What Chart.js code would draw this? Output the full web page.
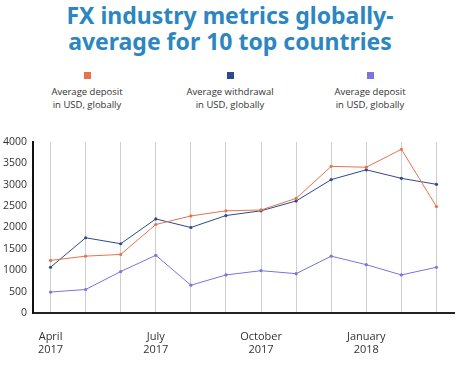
<html>
<head>
  <meta charset="utf-8"/>
  <title>FX industry metrics globally</title>
  <script src="https://cdn.jsdelivr.net/npm/chart.js"></script>
  <style>
    body {
      margin: 0;
      background: #fff;
      font-family: "Open Sans", sans-serif;
    }
    #wrap {
      position: relative;
      width: 460px;
      height: 367px;
      overflow: hidden;
    }
    h1 {
      position: absolute;
      top: 2px;
      left: 0;
      width: 460px;
      margin: 0;
      text-align: center;
      font-family: "Noto Sans", sans-serif;
      font-weight: bold;
      font-size: 23px;
      line-height: 26px;
      color: #2b86c2;
    }
    .legend-item {
      position: absolute;
      top: 72px;
      width: 120px;
      text-align: center;
      font-size: 9.5px;
      line-height: 12.5px;
      color: #333;
    }
    .legend-item span {
      display: block;
      width: 7px;
      height: 7px;
      margin: 0 auto 7px auto;
    }
    .chart-box {
      position: absolute;
      left: 0;
      top: 0;
      width: 460px;
      height: 367px;
    }
  </style>
</head>
<body>
  <div id="wrap">
    <h1>FX industry metrics globally-<br>average for 10 top countries</h1>
    <div id="legend"></div>
    <div class="chart-box">
      <canvas id="fxChart"></canvas>
    </div>
  </div>

  <script>
    const months = ['April 2017', 'May 2017', 'June 2017', 'July 2017', 'August 2017', 'September 2017',
                    'October 2017', 'November 2017', 'December 2017', 'January 2018', 'February 2018', 'March 2018'];
    const seriesNames = ['Average deposit in USD, globally', 'Average withdrawal in USD, globally', 'Average deposit in USD, globally'];
    const depositValues = [1230, 1330, 1370, 2070, 2270, 2390, 2410, 2680, 3430, 3410, 3830, 2490];
    const withdrawalValues = [1070, 1760, 1620, 2200, 2000, 2280, 2390, 2620, 3120, 3350, 3150, 3010];
    const deposit2Values = [490, 550, 970, 1350, 650, 890, 990, 920, 1330, 1130, 890, 1070];
    const yTicks = [0, 500, 1000, 1500, 2000, 2500, 3000, 3500, 4000];

    const colors = ['#e8734b', '#2c4a8c', '#7b73de'];
    const legendX = [27, 170, 310];

    const legend = document.getElementById('legend');
    seriesNames.forEach((name, i) => {
      const d = document.createElement('div');
      d.className = 'legend-item';
      d.style.left = legendX[i] + 'px';
      const parts = name.split(' in ');
      d.innerHTML = `<span style="background:${colors[i]}"></span>${parts[0]}<br>in ${parts[1]}`;
      legend.appendChild(d);
    });

    const allValues = [depositValues, withdrawalValues, deposit2Values];

    window.addEventListener('DOMContentLoaded', () => {
      const ctx = document.getElementById('fxChart').getContext('2d');
      new Chart(ctx, {
        type: 'line',
        data: {
          labels: months,
          datasets: allValues.map((vals, i) => ({
            label: seriesNames[i],
            data: vals,
            borderColor: colors[i],
            backgroundColor: colors[i],
            borderWidth: 1,
            pointRadius: 1.6,
            pointBorderWidth: 0,
            tension: 0
          }))
        },
        options: {
          responsive: true,
          maintainAspectRatio: false,
          animation: false,
          layout: { padding: { top: 142, left: 0, right: 6, bottom: 0 } },
          plugins: {
            legend: { display: false },
            tooltip: { enabled: false }
          },
          scales: {
            x: {
              offset: true,
              grid: { color: '#cfcfcf', lineWidth: 1, drawTicks: false },
              border: { color: '#222', width: 2 },
              ticks: {
                autoSkip: false,
                maxRotation: 0,
                padding: 17,
                color: '#333',
                font: { family: 'Open Sans', size: 11 },
                callback: function (val, idx) {
                  return idx % 3 === 0 ? months[idx].split(' ') : '';
                }
              },
              afterFit: s => { s.height = 54; }
            },
            y: {
              min: 0,
              max: 4000,
              afterBuildTicks: s => { s.ticks = yTicks.map(v => ({ value: v })); },
              grid: { color: 'rgba(0,0,0,0)', drawTicks: false },
              border: { color: '#111', width: 2 },
              ticks: {
                padding: 6,
                color: '#333',
                font: { family: 'Open Sans', size: 10.5 },
                callback: v => String(v)
              },
              afterFit: s => { s.width = 33; }
            }
          }
        }
      });
    });
  </script>
</body>
</html>
